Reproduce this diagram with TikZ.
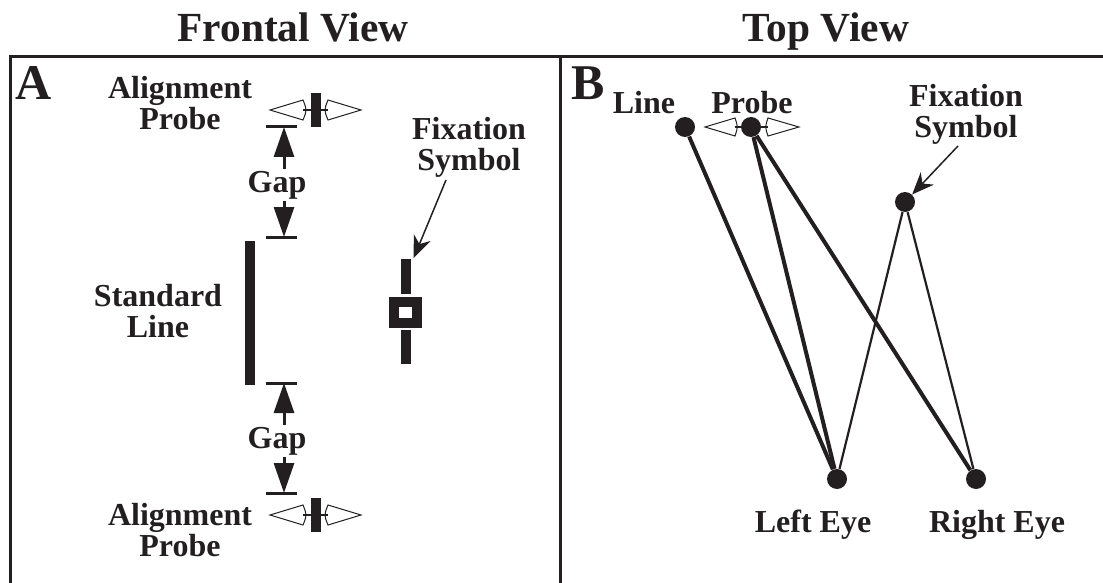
\documentclass[tikz,border=0pt]{standalone}
\usepackage{fontspec}
\setmainfont{Liberation Serif}
\definecolor{inkblack}{HTML}{231F20}
\usetikzlibrary{arrows.meta, positioning}

\begin{document}
\begin{tikzpicture}[x=0.5pt, y=-0.5pt,
    lbl/.style={font=\fontsize{16}{15.5}\selectfont\bfseries, align=center, inner sep=0pt, text=inkblack},
    ttl/.style={font=\fontsize{20.7}{24}\selectfont\bfseries, anchor=base, inner sep=0pt, text=inkblack},
    panel/.style={font=\fontsize{25}{30}\selectfont\bfseries, anchor=base west, inner sep=0pt, text=inkblack},
    frame/.style={inkblack, line width=1.5pt},
    tickbar/.style={inkblack, line width=1.5pt},
    gaparrow/.style={inkblack, line width=1.5pt, -{Triangle[length=15pt, width=10pt]}},
    pointer/.style={inkblack, line width=0.75pt, -{Stealth[length=11pt, width=9pt, inset=3.5pt]}},
    bar/.style={fill=inkblack, inner sep=0pt, minimum width=5pt},
    dot/.style={circle, fill=inkblack, inner sep=0pt, minimum size=10pt},
    sightthick/.style={inkblack, line width=2pt},
    sightthin/.style={inkblack, line width=1.1pt},
    slider/.style={draw=inkblack, fill=white, line width=0.5pt}
]
\useasboundingbox (0,0) rectangle (1103,583);

% Titles
\node[ttl] (frontTtl) at (293,42) {Frontal View};
\node[ttl] (topTtl) at (826,42) {Top View};

% Frame and divider
\draw[frame] (10,583) -- (10,57) -- (1103,57);
\draw[frame] (560,57) -- (560,583);

% ---------------- Panel A ----------------
\node[panel] (lblA) at (15,100) {A};

% Alignment probes (top and bottom)
\node[lbl] (probeTxtTop) at (180,103) {Alignment\\Probe};
\node[lbl] (probeTxtBot) at (180,530) {Alignment\\Probe};
\foreach \c in {110,515}{
  \draw[slider] (303,\c-10) -- (270,\c) -- (303,\c+10) .. controls (307,\c) .. (303,\c-10) -- cycle;
  \draw[slider] (328,\c-10) -- (361,\c) -- (328,\c+10) .. controls (324,\c) .. (328,\c-10) -- cycle;
  \draw[inkblack, line width=1pt] (303,\c) -- (328,\c);
  \fill[inkblack] (311,\c-17) rectangle (321,\c+17);
}

% Gap markers
\coordinate (tickA) at (284,127);
\coordinate (tickB) at (284,237);
\coordinate (tickC) at (284,383);
\coordinate (tickD) at (284,493);
\foreach \t in {127,237,383,493}
  \draw[tickbar] (266,\t) -- (297,\t);
\node[lbl, inner sep=1pt] (gapTop) at (277,185) {Gap};
\node[lbl, inner sep=1pt] (gapBot) at (277,441) {Gap};
\draw[gaparrow] (gapTop.north -| tickA) -- (tickA);
\draw[gaparrow] (gapTop.south -| tickB) -- (tickB);
\draw[gaparrow] (gapBot.north -| tickC) -- (tickC);
\draw[gaparrow] (gapBot.south -| tickD) -- (tickD);

% Standard line
\node[bar, minimum height=72pt] (stdBar) at (250,313) {};
\node[lbl] (stdTxt) at (158,311) {Standard\\Line};

% Fixation symbol
\node[bar, minimum height=17.5pt] (fixBarA) at (406,276.5) {};
\node[draw=inkblack, fill=white, line width=5pt, inner sep=0pt,
      minimum width=11.25pt, minimum height=10.5pt] (fixBoxA) at (405.5,312.5) {};
\node[bar, minimum height=17pt] (fixBarLowA) at (406,347) {};
\node[lbl] (fixTxtA) at (469,147) {Fixation\\Symbol};
\coordinate (fixTailA) at (446,180);
\draw[pointer, shorten >=3pt] (fixTailA) -- (fixBarA);

% ---------------- Panel B ----------------
\node[panel] (lblB) at (571,100) {B};

% Points seen from above
\node[dot] (lineDot) at (685,127) {};
\draw[slider] (735,118) -- (705,127) -- (735,136) .. controls (738,127) .. (735,118) -- cycle;
\draw[slider] (768,118) -- (799,127) -- (768,136) .. controls (765,127) .. (768,118) -- cycle;
\draw[inkblack, line width=1pt] (735,127) -- (768,127);
\node[dot] (probeDot) at (751,127) {};
\node[dot] (fixDot) at (905,202) {};
\node[dot] (leftEye) at (837,479) {};
\node[dot] (rightEye) at (976,479) {};

% Labels
\node[lbl, anchor=base] (lineTxt) at (644,113) {Line};
\node[lbl, anchor=base] (probeTxt) at (752,113) {Probe};
\node[lbl] (fixTxtB) at (966,114) {Fixation\\Symbol};
\node[lbl, anchor=base] (leftTxt) at (813,532) {Left Eye};
\node[lbl, anchor=base] (rightTxt) at (997,532) {Right Eye};

% Lines of sight
\draw[sightthick] (lineDot) -- (leftEye);
\draw[sightthick] (probeDot) -- (leftEye);
\draw[sightthick] (probeDot) -- (rightEye);
\draw[sightthin] (fixDot) -- (leftEye);
\draw[sightthin] (fixDot) -- (rightEye);

% Pointer to fixation point
\coordinate (fixTailB) at (958,146);
\draw[pointer] (fixTailB) -- (fixDot);
\end{tikzpicture}
\end{document}
